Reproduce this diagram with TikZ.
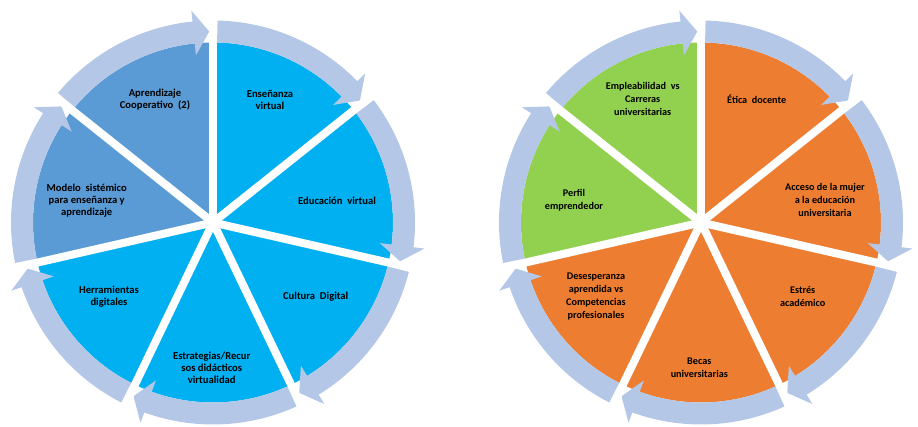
\documentclass[tikz,border=0pt]{standalone}
\usepackage{fontspec}
\setmainfont{Carlito}
\usepackage{tikz}
\usetikzlibrary{positioning, calc}
\definecolor{ringblue}{HTML}{B4C7E7}
\definecolor{darkblue}{HTML}{5B9BD5}
\definecolor{skyblue}{HTML}{00B0F0}
\definecolor{leafgreen}{HTML}{92D050}
\definecolor{orangefill}{HTML}{ED7D31}
\tikzstyle{segtext} = [align=center, text=black, font=\bfseries\fontsize{10.6}{12}\selectfont]
\tikzstyle{segtextb} = [align=center, text=black, font=\bfseries\fontsize{10.2}{13}\selectfont]
% one coloured slice of the wheel: centre, start angle, colour
\newcommand{\wedgepart}[3]{\fill[#3, shift={(#1)}] (0,0) -- (#2:180) arc (#2:#2-51.43:180) -- cycle;}
% white gap at the start angle and the curved arrow of that slice
\newcommand{\cyclearrow}[2]{%
\draw[white, line width=8, shift={(#1)}] (0,0) -- (#2:196);
\fill[ringblue, shift={(#1)}] (#2-1.3:202) arc (#2-1.3:#2-45.6:202) -- (#2-45.6:213) -- (#2-50.3:191) -- (#2-45.6:168) -- (#2-45.6:180) arc (#2-45.6:#2-1.3:180) -- cycle;}

\begin{document}
\begin{tikzpicture}[x=1pt, y=1pt]
\useasboundingbox (0,0) rectangle (918,426);
\coordinate (lc) at (213,203.5);
\coordinate (rc) at (701,203.5);
\node (cap) [anchor=base, font=\fontsize{16}{19}\selectfont] at (59,428) {g};

% left wheel
\wedgepart{lc}{90}{skyblue}
\wedgepart{lc}{38.57}{skyblue}
\wedgepart{lc}{-12.86}{skyblue}
\wedgepart{lc}{-64.29}{skyblue}
\wedgepart{lc}{-115.71}{skyblue}
\wedgepart{lc}{-167.14}{darkblue}
\wedgepart{lc}{141.43}{darkblue}
\cyclearrow{lc}{90}
\cyclearrow{lc}{38.57}
\cyclearrow{lc}{-12.86}
\cyclearrow{lc}{-64.29}
\cyclearrow{lc}{-115.71}
\cyclearrow{lc}{-167.14}
\cyclearrow{lc}{141.43}
\node (aprend) [segtext, xshift=-58, yshift=122.5] at (lc) {Aprendizaje\\Cooperativo~ (2)};
\node (ensen) [segtext, xshift=57, yshift=123] at (lc) {Enseñanza\\virtual};
\node (educ) [segtext, xshift=124, yshift=21.5] at (lc) {Educación~ virtual};
\node (cultura) [segtext, xshift=102.7, yshift=-74.2] at (lc) {Cultura~ Digital};
\node (estrat) [segtext, xshift=-1.3, yshift=-145.8] at (lc) {Estrategias/Recur\\sos didácticos\\virtualidad};
\node (herram) [segtext, xshift=-104, yshift=-74.2] at (lc) {Herramientas\\digitales};
\node (modelo) [segtext, xshift=-126.3, yshift=21.5] at (lc) {Modelo~ sistémico\\para enseñanza y\\aprendizaje};

% right wheel
\wedgepart{rc}{90}{orangefill}
\wedgepart{rc}{38.57}{orangefill}
\wedgepart{rc}{-12.86}{orangefill}
\wedgepart{rc}{-64.29}{orangefill}
\wedgepart{rc}{-115.71}{orangefill}
\wedgepart{rc}{-167.14}{leafgreen}
\wedgepart{rc}{141.43}{leafgreen}
\cyclearrow{rc}{90}
\cyclearrow{rc}{38.57}
\cyclearrow{rc}{-12.86}
\cyclearrow{rc}{-64.29}
\cyclearrow{rc}{-115.71}
\cyclearrow{rc}{-167.14}
\cyclearrow{rc}{141.43}
\node (emplea) [segtextb, xshift=-58.3, yshift=123.5] at (rc) {Empleabilidad~ vs\\Carreras\\universitarias};
\node (etica) [segtextb, xshift=55.7, yshift=123.5] at (rc) {Ética~ docente};
\node (acceso) [segtextb, xshift=124, yshift=22.5] at (rc) {Acceso de la mujer\\a la educación\\universitaria};
\node (estres) [segtextb, xshift=101.7, yshift=-74.2] at (rc) {Estrés\\académico};
\node (becas) [segtextb, xshift=-1.7, yshift=-145.5] at (rc) {Becas\\universitarias};
\node (deses) [segtextb, xshift=-105, yshift=-73.5] at (rc) {Desesperanza\\aprendida vs\\Competencias\\profesionales};
\node (perfil) [segtextb, xshift=-127, yshift=22.5] at (rc) {Perfil\\emprendedor};
\end{tikzpicture}
\end{document}
